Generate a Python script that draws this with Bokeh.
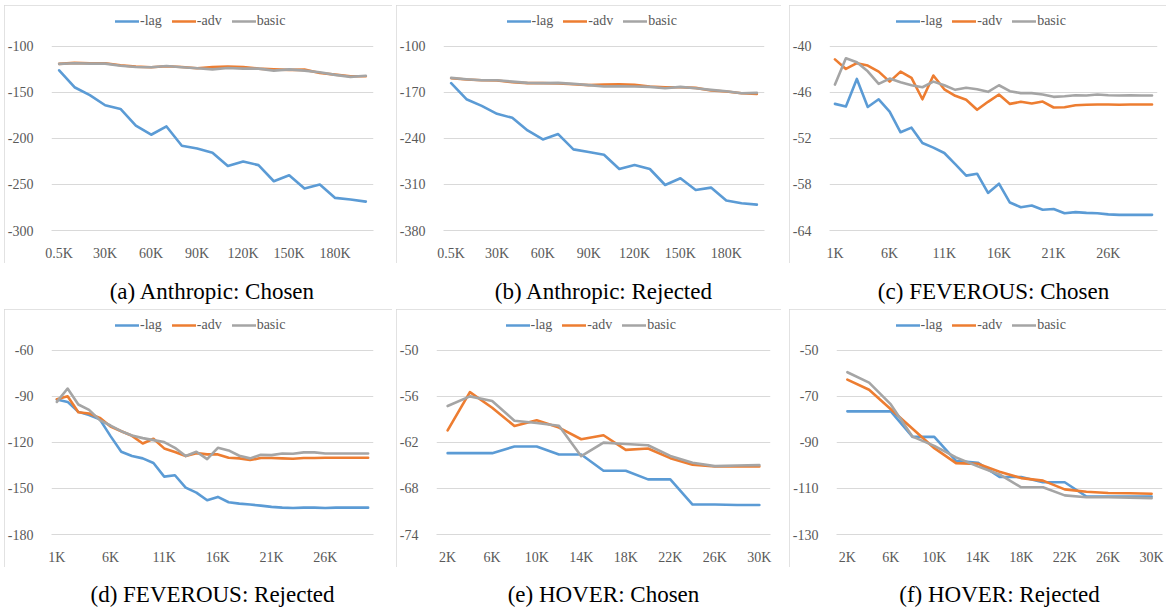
from bokeh.plotting import figure
from bokeh.models import ColumnDataSource, Legend, LegendItem, FixedTicker, Range1d, Spacer
from bokeh.layouts import column, row
from bokeh.embed import file_html
from bokeh.resources import INLINE

# ---------------- data ----------------
anth_x = ["0.5K", "10K", "20K", "30K", "40K", "50K", "60K", "70K", "80K", "90K", "100K",
          "110K", "120K", "130K", "140K", "150K", "160K", "170K", "180K", "190K", "200K"]
fev_x = ["1K", "2K", "3K", "4K", "5K", "6K", "7K", "8K", "9K", "10K", "11K", "12K", "13K", "14K", "15K",
         "16K", "17K", "18K", "19K", "20K", "21K", "22K", "23K", "24K", "25K", "26K", "27K", "28K", "29K", "30K"]
hover_x = ["2K", "4K", "6K", "8K", "10K", "12K", "14K", "16K", "18K", "20K", "22K", "24K", "26K", "28K", "30K"]

a_lag = [-126, -144.4, -153, -164, -168, -186, -196, -187, -208, -211, -215.5,
         -230, -225, -229, -246.5, -240, -254.5, -250, -264.6, -266.4, -268.6]
a_adv = [-119, -118, -118.4, -118.4, -120.6, -122, -122.7, -121.7, -122.4, -123.8, -122.4,
         -122, -122.4, -124.2, -125, -125.6, -125.3, -129, -130.7, -132.5, -132.5]
a_basic = [-119, -118.4, -118.8, -118.8, -121, -122.4, -122.7, -121.3, -122.7, -123.8, -125,
           -123.5, -124.2, -124.2, -126.4, -125, -126.4, -128.2, -131, -133.2, -132]

b_lag = [-156, -180.4, -190.5, -202.6, -208.7, -227.9, -241.5, -233.4, -256.7, -260.7, -264.8,
         -286.5, -280.4, -286.5, -310.8, -300.6, -318.3, -314.8, -334.5, -338.6, -340.6]
b_adv = [-148.5, -150.5, -151.6, -152, -154.6, -156, -156, -156.6, -157.6, -159, -158,
         -157.6, -158.6, -161, -162.2, -162.2, -163.2, -167.2, -168.7, -171.3, -172.3]
b_basic = [-148, -150, -151.6, -151.6, -153.6, -155.6, -156, -155.6, -157, -159, -161,
           -160.6, -161, -161.7, -163.7, -161.7, -163.7, -166.2, -168.2, -171.3, -170.8]

c_lag = [-47.5, -47.84, -44.25, -47.9, -46.9, -48.5, -51.2, -50.6, -52.6, -53.2, -53.9, -55.35, -56.85, -56.6, -59.1,
         -57.9, -60.36, -60.97, -60.75, -61.3, -61.2, -61.75, -61.6, -61.7, -61.75, -61.9, -61.96, -61.96, -61.96, -61.96]
c_adv = [-41.7, -42.95, -42.2, -42.5, -43.3, -44.6, -43.3, -44.1, -46.9, -43.8, -45.6, -46.45, -46.97, -48.27, -47.23,
         -46.28, -47.5, -47.23, -47.45, -47.2, -47.97, -47.93, -47.67, -47.62, -47.58, -47.58, -47.62, -47.58, -47.58, -47.58]
c_basic = [-44.98, -41.56, -42.08, -43.25, -44.9, -44.2, -44.68, -45.07, -45.33, -44.6, -45.07, -45.67, -45.4, -45.6, -45.93,
           -45.07, -45.85, -46.1, -46.1, -46.28, -46.58, -46.5, -46.37, -46.41, -46.28, -46.37, -46.41, -46.37, -46.41, -46.41]

d_lag = [-92.1, -93.6, -100.1, -102.2, -105, -115.9, -126.1, -128.9, -130.4, -133.4, -142.3, -141.4, -149.5, -152.7, -157.7,
         -155.5, -159, -159.9, -160.5, -161.2, -162, -162.5, -162.7, -162.5, -162.5, -162.7, -162.5, -162.5, -162.5, -162.5]
d_adv = [-91.8, -89.9, -100.3, -101.2, -104, -109.6, -112.7, -115.7, -120.7, -117.6, -123.9, -126.3, -128.9, -127, -127.8,
         -127.8, -130, -130.4, -131.5, -130.2, -130.2, -130.4, -130.6, -130.2, -130.2, -130, -130, -130, -130, -130]
d_basic = [-93.6, -84.9, -95.3, -98.8, -105.5, -109, -112.7, -115.5, -117.2, -118.5, -119.8, -123.5, -128.9, -126.1, -130.9,
           -123.5, -125.2, -128.7, -130.4, -128.1, -128.3, -127.2, -127.4, -126.5, -126.5, -127.2, -127.2, -127.2, -127.2, -127.2]

e_lag = [-63.4, -63.4, -63.4, -62.54, -62.54, -63.58, -63.58, -65.7, -65.7, -66.82, -66.82, -70.1, -70.1, -70.15, -70.15]
e_adv = [-60.42, -55.45, -57.48, -59.86, -59.12, -60.07, -61.59, -61.07, -62.97, -62.8, -64.05, -64.92, -65.13, -65.13, -65.13]
e_basic = [-57.26, -56, -56.6, -59.17, -59.47, -59.82, -63.8, -62.03, -62.2, -62.37, -63.76, -64.66, -65.09, -65, -64.96]

f_lag = [-76.5, -76.5, -76.5, -87.6, -87.6, -98, -98.8, -105, -105, -107.3, -107.3, -113.5, -113.5, -113.5, -113.5]
f_adv = [-62.7, -67.1, -75.6, -84.1, -92.5, -99, -99.3, -102.7, -105.5, -106.6, -110.4, -111.4, -112, -112.1, -112.3]
f_basic = [-59.5, -64, -73.5, -87.5, -91.5, -96.5, -100.4, -103.9, -109.5, -109.5, -113, -113.8, -113.8, -114, -114.2]

series_names = ["-lag", "-adv", "basic"]
series_colors = ["#5B9BD5", "#ED7D31", "#A5A5A5"]

captions = ["(a) Anthropic: Chosen", "(b) Anthropic: Rejected", "(c) FEVEROUS: Chosen",
            "(d) FEVEROUS: Rejected", "(e) HOVER: Chosen", "(f) HOVER: Rejected"]

# per-panel layout: chart width, left/right border around plot frame
panels = [
    dict(cats=anth_x, ys=[a_lag, a_adv, a_basic], yticks=[-300, -250, -200, -150, -100], xstep=3, w=388, lb=45, rb=19),
    dict(cats=anth_x, ys=[b_lag, b_adv, b_basic], yticks=[-380, -310, -240, -170, -100], xstep=3, w=385, lb=44, rb=17),
    dict(cats=fev_x, ys=[c_lag, c_adv, c_basic], yticks=[-64, -58, -52, -46, -40], xstep=5, w=377, lb=37, rb=9),
    dict(cats=fev_x, ys=[d_lag, d_adv, d_basic], yticks=[-180, -150, -120, -90, -60], xstep=5, w=388, lb=45, rb=19),
    dict(cats=hover_x, ys=[e_lag, e_adv, e_basic], yticks=[-74, -68, -62, -56, -50], xstep=2, w=385, lb=38, rb=11),
    dict(cats=hover_x, ys=[f_lag, f_adv, f_basic], yticks=[-130, -110, -90, -70, -50], xstep=2, w=377, lb=44, rb=4),
]

H = 258
TOP = 5          # border above frame
BOTTOM = 32      # border below frame
GRID_TOP = 41    # px from top of chart to the top gridline
LEGEND_W = 170   # approximate legend box width (used to centre it on the chart area)
FONT = "Liberation Serif"
GRID = "#D9D9D9"
TXT = "#595959"


def make_chart(pd_):
    cats = pd_["cats"]
    n = len(cats)
    y0, y1 = pd_["yticks"][0], pd_["yticks"][-1]
    grid_span = H - GRID_TOP - BOTTOM
    y_end = y1 + (y1 - y0) * (GRID_TOP - TOP) / grid_span   # room above top gridline for legend
    p = figure(width=pd_["w"], height=H, output_backend="svg", toolbar_location=None,
               x_range=Range1d(-0.5, n - 0.5), y_range=Range1d(y0, y_end),
               min_border_left=pd_["lb"], min_border_right=pd_["rb"],
               min_border_top=TOP, min_border_bottom=BOTTOM,
               styles={"outline": "1px solid #D9D9D9", "outline-offset": "-1px"})
    p.outline_line_color = None
    p.background_fill_color = "white"
    p.border_fill_color = "white"
    renderers = []
    for ys, name, col in zip(pd_["ys"], series_names, series_colors):
        src = ColumnDataSource(dict(x=list(range(n)), y=ys))
        r = p.line("x", "y", source=src, line_color=col, line_width=2.6,
                   line_join="round", line_cap="round")
        renderers.append((name, r))
    frame_h = H - TOP - BOTTOM
    leg_x = pd_["w"] / 2 - pd_["lb"] - LEGEND_W / 2
    leg_y = frame_h - 20
    legend = Legend(items=[LegendItem(label=nm, renderers=[r]) for nm, r in renderers],
                    orientation="horizontal", location=(leg_x, leg_y),
                    label_text_font=FONT, label_text_font_size="14px", label_text_color=TXT,
                    glyph_width=24, glyph_height=14, label_height=14, label_width=10,
                    label_standoff=1, spacing=10, padding=2, margin=0,
                    border_line_color=None, background_fill_alpha=0)
    p.add_layout(legend, "center")

    xt = list(range(0, n, pd_["xstep"]))
    p.xaxis.ticker = FixedTicker(ticks=xt)
    p.xaxis.major_label_overrides = {i: cats[i] for i in xt}
    p.yaxis.ticker = FixedTicker(ticks=pd_["yticks"])
    p.yaxis.major_label_overrides = {t: str(t) for t in pd_["yticks"]}
    p.xgrid.visible = False
    p.ygrid.grid_line_color = GRID
    p.ygrid.grid_line_width = 1
    for ax in (p.xaxis[0], p.yaxis[0]):
        ax.major_tick_line_color = None
        ax.minor_tick_line_color = None
        ax.major_label_text_font = FONT
        ax.major_label_text_font_size = "14px"
        ax.major_label_text_color = TXT
    p.yaxis.axis_line_color = None
    p.xaxis.axis_line_color = GRID
    p.yaxis.major_label_standoff = 12
    p.xaxis.major_label_standoff = 9
    return p


def make_caption(text, w, h, label_top):
    # caption drawn as the (centred) axis label of a tiny empty figure
    standoff = 2
    frame_h = label_top - standoff
    c = figure(width=w, height=h, output_backend="svg", toolbar_location=None,
               x_range=Range1d(0, 1), y_range=Range1d(0, 1), y_axis_type=None,
               min_border_left=0, min_border_right=0, min_border_top=0,
               min_border_bottom=h - frame_h)
    c.outline_line_color = None
    c.grid.visible = False
    c.background_fill_color = "white"
    c.border_fill_color = "white"
    ax = c.xaxis[0]
    ax.ticker = FixedTicker(ticks=[])
    ax.axis_line_color = None
    ax.major_tick_line_color = None
    ax.minor_tick_line_color = None
    ax.major_tick_out = 0
    ax.major_tick_in = 0
    ax.major_label_standoff = 0
    ax.axis_label = text
    ax.axis_label_standoff = standoff
    ax.axis_label_text_font = FONT
    ax.axis_label_text_font_size = "23px"
    ax.axis_label_text_font_style = "normal"
    ax.axis_label_text_color = "#000000"
    return c


cells = []
for i, pd_ in enumerate(panels):
    if i < 3:
        cap = make_caption(captions[i], pd_["w"], 46, 15)
    else:
        cap = make_caption(captions[i], pd_["w"], 42, 16)
    cells.append(column(make_chart(pd_), cap, spacing=0))


def make_row(c3):
    return row([Spacer(width=4, height=1), c3[0], Spacer(width=4, height=1), c3[1],
                Spacer(width=8, height=1), c3[2]], spacing=0)


layout = column([Spacer(width=1, height=5), make_row(cells[0:3]), make_row(cells[3:6])], spacing=0)

open("out.html", "w").write(file_html(layout, INLINE))
